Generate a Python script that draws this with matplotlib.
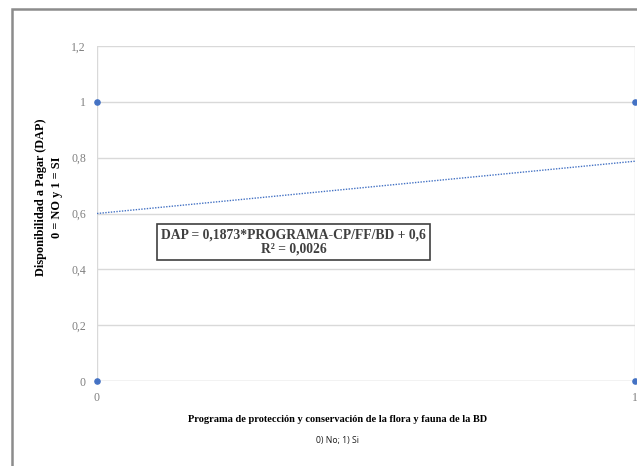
import matplotlib
matplotlib.use("Agg")
import matplotlib.pyplot as plt
from matplotlib.patches import Rectangle
import numpy as np

# observed points (program: 0 = No, 1 = Si ; DAP: 0 = NO, 1 = SI)
prog_x = [0, 0, 1, 1]
dap_y = [1, 0, 1, 0]

# linear trend reported in the chart
slope = 0.1873
intercept = 0.6
r2 = 0.0026

yticks = [0, 0.2, 0.4, 0.6, 0.8, 1, 1.2]
ytick_labels = ["0", "0,2", "0,4", "0,6", "0,8", "1", "1,2"]
xticks = [0, 1]
xtick_labels = ["0", "1"]

serif = "Liberation Serif"
tick_col = "#7f7f7f"
blue = "#4472c4"

fig = plt.figure(figsize=(6.37, 4.66), dpi=100)
# outer frame (cropped on right/bottom)
fig.patches.append(Rectangle((12/637, -0.1), 1.2, 1 - 9/466 + 0.1, transform=fig.transFigure,
                             fill=False, edgecolor="#8c8c8c", linewidth=1.8))

ax = fig.add_axes([97/637, 85/466, 538/637, 335/466])
ax.set_xlim(0, 1)
ax.set_ylim(0, 1.2)
for s in ax.spines.values():
  s.set_visible(False)
for y in yticks:
  ax.axhline(y, color="#bfbfbf" if y == 0 else "#d9d9d9", linewidth=1.0, zorder=0)
ax.axvline(0, color="#d9d9d9", linewidth=1.0, zorder=0)
ax.axvline(1, color="#d9d9d9", linewidth=1.0, zorder=0)

xs = np.array([0, 1])
ax.plot(xs, slope * xs + intercept, linestyle=(0, (1, 1)), color=blue, linewidth=1.0, zorder=2)
ax.scatter(prog_x, dap_y, s=14, color=blue, zorder=3, clip_on=False)

ax.set_yticks(yticks)
ax.set_yticklabels(ytick_labels, fontfamily=serif, fontsize=8.5, color=tick_col)
ax.set_xticks(xticks)
ax.set_xticklabels(xtick_labels, fontfamily=serif, fontsize=8.5, color=tick_col)
ax.tick_params(length=0, pad=8)

ax.text(0.366, 0.415,
        "DAP = 0,1873*PROGRAMA-CP/FF/BD + 0,6\nR² = 0,0026",
        transform=ax.transAxes, ha="center", va="center", multialignment="center",
        fontfamily=serif, fontweight="bold", fontsize=9.8, color="#404040", linespacing=1.1,
        bbox=dict(boxstyle="square,pad=0.3", facecolor="white", edgecolor="#404040", linewidth=1.2))

fig.text(49/637, 1 - 197/466, "Disponibilidad a Pagar (DAP)\n0 = NO y 1 = SI",
         rotation=90, ha="center", va="center", multialignment="center",
         fontfamily=serif, fontweight="bold", fontsize=8.8, linespacing=1.35)
fig.text(338/637, 1 - 420/466, "Programa de protección y conservación de la flora y fauna de la BD",
         ha="center", va="center", fontfamily=serif, fontweight="bold", fontsize=7.5)
fig.text(338/637, 1 - 440/466, "0) No; 1) Si", ha="center", va="center",
         fontfamily="Open Sans", fontsize=6.2, color="#1a1a1a")

fig.savefig("out.png", dpi=100)
